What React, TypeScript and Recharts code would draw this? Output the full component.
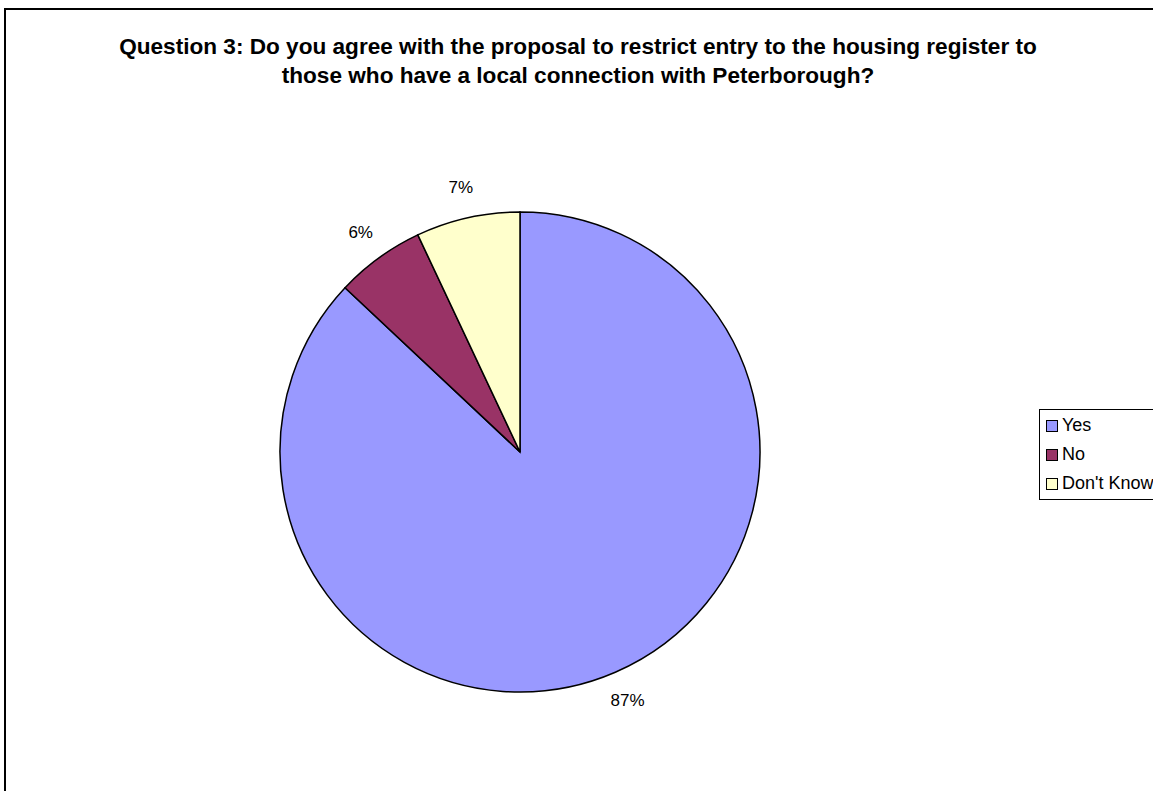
import { PieChart, Pie, Cell, Legend } from 'recharts';

const ANSWERS = ['Yes', 'No', "Don't Know"];
const SHARES = [87, 6, 7];
const COLORS = ['#9999FF', '#993366', '#FFFFCC'];

const TITLE_LINES = [
  'Question 3: Do you agree with the proposal to restrict entry to the housing register to',
  'those who have a local connection with Peterborough?',
];

const FONT = '"Liberation Sans", Arial, sans-serif';

const data = ANSWERS.map((name, i) => ({ name, value: SHARES[i] }));

const RADIAN = Math.PI / 180;

function renderLabel(props: any) {
  const { cx, cy, midAngle, outerRadius, percent } = props;
  const r = outerRadius + 31;
  const x = cx + r * Math.cos(-midAngle * RADIAN);
  const y = cy + r * Math.sin(-midAngle * RADIAN);
  return (
    <text x={x} y={y} textAnchor="middle" dominantBaseline="central" fill="#000" fontSize={17} fontFamily={FONT}>
      {`${Math.round(percent * 100)}%`}
    </text>
  );
}

function LegendBox() {
  return (
    <div style={{ border: '1px solid #000', background: '#fff', padding: '1px 6px 1px 6px', width: 140, fontFamily: FONT, fontSize: 18 }}>
      {data.map((d, i) => (
        <div key={d.name} style={{ display: 'flex', alignItems: 'center', height: 29, whiteSpace: 'nowrap' }}>
          <span style={{ display: 'inline-block', width: 10, height: 10, border: '1px solid #000', background: COLORS[i], marginRight: 4, flexShrink: 0 }} />
          <span>{d.name}</span>
        </div>
      ))}
    </div>
  );
}

export default function App() {
  return (
    <div style={{ position: 'absolute', left: 0, top: 0, width: 1153, height: 791, overflow: 'hidden', background: '#fff' }}>
      <div style={{ position: 'absolute', left: 4, top: 8, width: 1300, height: 900, border: '2px solid #000', boxSizing: 'border-box' }} />
      <div style={{ position: 'absolute', left: 0, top: 0 }}>
        <PieChart width={1153} height={791} margin={{ top: 0, right: 0, bottom: 0, left: 0 }}>
          <text x={578} y={46} textAnchor="middle" dominantBaseline="central" fontSize={22.6} fontWeight="bold" fontFamily={FONT} fill="#000">
            {TITLE_LINES[0]}
          </text>
          <text x={578} y={75} textAnchor="middle" dominantBaseline="central" fontSize={22.6} fontWeight="bold" fontFamily={FONT} fill="#000">
            {TITLE_LINES[1]}
          </text>
          <Pie
            data={data}
            dataKey="value"
            nameKey="name"
            cx={520}
            cy={452}
            outerRadius={240}
            startAngle={90}
            endAngle={-270}
            stroke="#000"
            strokeWidth={1.5}
            labelLine={false}
            label={renderLabel}
            isAnimationActive={false}
          >
            {data.map((entry, index) => (
              <Cell key={`cell-${index}`} fill={COLORS[index % COLORS.length]} />
            ))}
          </Pie>
          <Legend
            layout="vertical"
            content={() => <LegendBox />}
            wrapperStyle={{ position: 'absolute', left: 1039, top: 409, width: 'auto' }}
          />
        </PieChart>
      </div>
    </div>
  );
}
